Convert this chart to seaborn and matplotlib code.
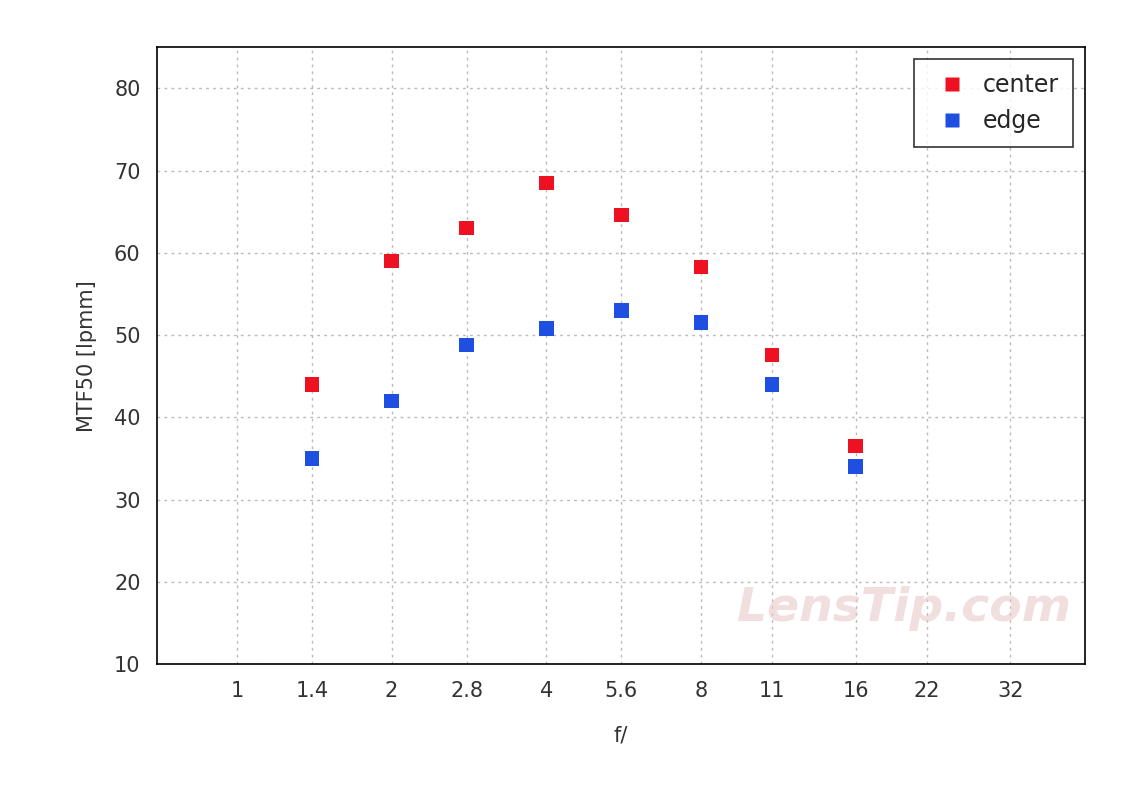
import matplotlib
matplotlib.use("Agg")
from matplotlib import pyplot as plt
from matplotlib.ticker import FixedLocator, FixedFormatter, NullLocator
import pandas as pd
import seaborn as sns

# aperture values and MTF50 readings
apertures = [1.4, 2, 2.8, 4, 5.6, 8, 11, 16]
center = [44.0, 59.0, 63.0, 68.5, 64.6, 58.3, 47.6, 36.5]
edge = [35.0, 42.0, 48.8, 50.8, 53.0, 51.5, 44.0, 34.0]
tick_vals = [1, 1.4, 2, 2.8, 4, 5.6, 8, 11, 16, 22, 32]
tick_labels = ["1", "1.4", "2", "2.8", "4", "5.6", "8", "11", "16", "22", "32"]

df = pd.DataFrame({
    "f": apertures * 2,
    "mtf": center + edge,
    "zone": ["center"] * len(apertures) + ["edge"] * len(apertures),
})

sns.set_style("white")
plt.rcParams["font.family"] = ["DejaVu Sans"]

fig = plt.figure(figsize=(11.48, 7.86), dpi=100)
ax = fig.add_axes([0.137, 0.155, 0.808, 0.785])

sns.scatterplot(data=df, x="f", y="mtf", hue="zone", ax=ax,
                palette={"center": "#ee1122", "edge": "#1f4fe0"},
                marker="s", s=110, edgecolor="none", zorder=3)

ax.set_xscale("log", base=2)
ax.set_xlim(0.70, 44.7)
ax.set_ylim(10, 85)
ax.xaxis.set_major_locator(FixedLocator(tick_vals))
ax.xaxis.set_major_formatter(FixedFormatter(tick_labels))
ax.xaxis.set_minor_locator(NullLocator())
ax.set_yticks(range(10, 81, 10))
ax.tick_params(labelsize=15, colors="#333333", length=0, pad=12)
ax.grid(True, linestyle=(0, (2, 3)), color="#bbbbbb", linewidth=1)
for sp in ax.spines.values():
    sp.set_color("black")
    sp.set_linewidth(1.2)

ax.set_xlabel("f/", fontsize=15, color="#333333", labelpad=18)
ax.set_ylabel("MTF50 [lpmm]", fontsize=15, color="#333333", labelpad=12)

leg = ax.legend(loc="upper right", fontsize=17, frameon=True, fancybox=False,
                borderpad=0.6, handletextpad=0.3, markerscale=0.9)
leg.get_frame().set_edgecolor("black")
leg.get_frame().set_linewidth(1.2)

ax.text(0.985, 0.07, "LensTip.com", transform=ax.transAxes, ha="right",
        fontsize=34, fontstyle="italic", fontweight="bold", color="#e8c8c8",
        alpha=0.6, zorder=1)

fig.savefig("out.png", dpi=100, facecolor="white")
